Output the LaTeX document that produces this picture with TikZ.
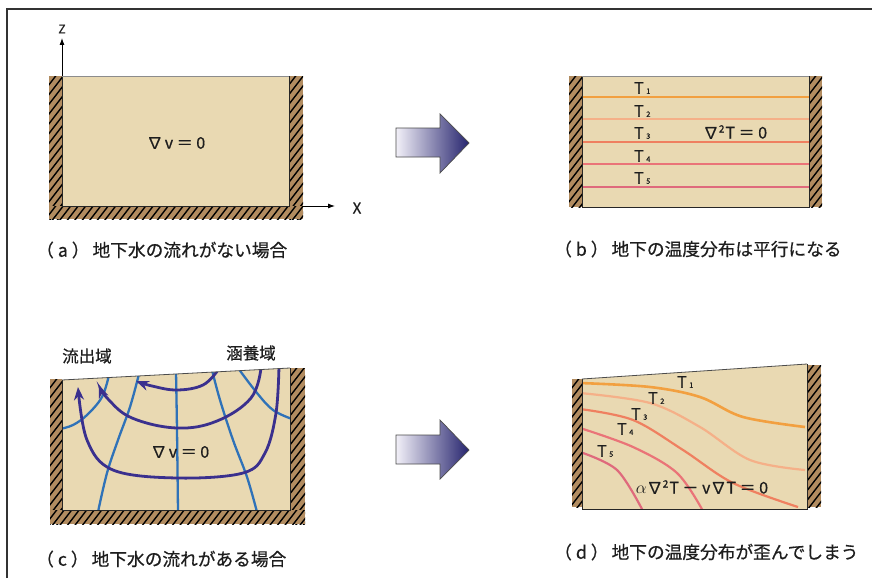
\documentclass[tikz,border=0pt]{standalone}
\usepackage{fontspec}
\setmainfont{Noto Sans CJK JP}[FakeBold=0.6]
\usetikzlibrary{arrows.meta}

\definecolor{soil}{HTML}{E9D9B2}
\definecolor{wallc}{HTML}{B28C60}
\definecolor{flowc}{HTML}{3A308E}
\definecolor{equic}{HTML}{2F72B8}
\definecolor{tone}{HTML}{F2A040}
\definecolor{ttwo}{HTML}{F5B088}
\definecolor{tthree}{HTML}{EF8060}
\definecolor{tfour}{HTML}{EA7478}
\definecolor{tfive}{HTML}{DF6A7C}
\definecolor{txt}{HTML}{1E1E1E}
\definecolor{arrL}{HTML}{F2F0F8}
\definecolor{arrM}{HTML}{8C80BC}
\definecolor{arrR}{HTML}{26246E}

% hatched wall: #1,#2 = left/top, #3,#4 = right/bottom (pixel units, y downwards)
\newcommand\hatchwall[4]{%
  \begin{scope}
    \clip (#1,#2) rectangle (#3,#4);
    \fill[wallc] (#1,#2) rectangle (#3,#4);
    \pgfmathsetmacro\hwH{#4-#2+6}
    \pgfmathsetmacro\hwW{\hwH/1.3}
    \pgfmathsetmacro\hwA{#1-\hwW-6}
    \pgfmathsetmacro\hwB{\hwA+7.5}
    \foreach \hx in {\hwA,\hwB,...,#3}
      \draw[hatchline] (\hx,#4+3) -- ++(\hwW,-\hwH);
  \end{scope}}

% temperature label with a small index
\newcommand\tlbl[1]{T\hspace{2.5pt}{\fontsize{7.5}{8}\selectfont #1}}
% superscript two inside the equations
\newcommand\sqtwo{\raisebox{6pt}{\fontsize{10}{11}\selectfont 2}}

\begin{document}
\begin{tikzpicture}[x=1pt,y=-1pt,
  hatchline/.style={black,line width=1.4pt},
  soilbox/.style={fill=soil,draw=black!85,line width=0.9pt},
  topedge/.style={draw=black!45,line width=0.6pt},
  flow/.style={draw=flowc,line width=2.8pt,line cap=round,
    -{Stealth[length=13pt,width=10pt]}},
  equi/.style={draw=equic,line width=2.3pt},
  tcurve/.style={line width=2.2pt},
  axisarrow/.style={black,line width=0.9pt,-{Latex[length=7pt,width=5pt]}},
  caption/.style={font=\fontsize{17.7}{20}\selectfont,text=txt,inner sep=0,anchor=west},
  region/.style={font=\fontsize{16.5}{19}\selectfont,text=txt,inner sep=0},
  eqn/.style={font=\fontsize{16}{18}\selectfont,text=txt,inner sep=0},
  tname/.style={font=\fontsize{16}{18}\selectfont,text=txt,inner sep=0,anchor=west},
  bigarrow/.style={draw=black!70,line width=0.7pt}]

\useasboundingbox (0,0) rectangle (872,578);
\fill[white] (0,0) rectangle (872,578);

% outer frame
\draw[black!80,line width=1.8pt] (7,578) -- (7,9) -- (872,9);

% ---------- (a) no groundwater flow ----------
\hatchwall{49}{76}{62}{219}
\hatchwall{289}{76}{303}{219}
\hatchwall{49}{206}{303}{219}
\draw[soilbox] (62,76) rectangle (289,206);
\draw[topedge] (62,76) -- (289,76);
\coordinate (zorig) at (62,76);
\coordinate (zend) at (62,38);
\coordinate (xorig) at (303,206);
\coordinate (xend) at (335,206);
\draw[axisarrow] (zorig) -- (zend);
\draw[axisarrow] (xorig) -- (xend);
\node[font=\fontsize{12}{13}\selectfont,text=txt,inner sep=0] (zlab) at (62,29) {Z};
\node[font=\fontsize{15}{16}\selectfont,text=txt,inner sep=0] (xlab) at (357,208) {X};
\node[eqn] (eqa) at (176,143) {∇\hspace{2pt}v ＝ 0};
\node[caption] (capa) at (36,250) {（\hspace{4pt}a\hspace{4pt}）\hspace{3pt}地下水の流れがない場合};

% ---------- (b) parallel temperature field ----------
\hatchwall{569}{76}{582}{207}
\hatchwall{809}{76}{822}{207}
\draw[soilbox] (582,76) rectangle (809,207);
\draw[topedge] (582,76) -- (809,76);
\draw[tcurve,tone]   (582.5,97)  -- (808.5,97);
\draw[tcurve,ttwo]   (582.5,119) -- (808.5,119);
\draw[tcurve,tthree] (582.5,142) -- (808.5,142);
\draw[tcurve,tfour]  (582.5,164) -- (808.5,164);
\draw[tcurve,tfive]  (582.5,187) -- (808.5,187);
\node[tname] (tb1) at (634,88)  {\tlbl{1}};
\node[tname] (tb2) at (634,111) {\tlbl{2}};
\node[tname] (tb3) at (634,133) {\tlbl{3}};
\node[tname] (tb4) at (634,156) {\tlbl{4}};
\node[tname] (tb5) at (634,178) {\tlbl{5}};
\node[eqn] (eqb) at (735,132) {∇\sqtwo\hspace{1pt}T ＝ 0};
\node[caption] (capb) at (554,249) {（\hspace{4pt}b\hspace{4pt}）\hspace{3pt}地下の温度分布は平行になる};

% ---------- (c) with groundwater flow ----------
\hatchwall{50}{379}{62}{524}
\hatchwall{290}{368}{305}{524}
\hatchwall{50}{510}{305}{524}
\fill[soil] (62,380) -- (290,368) -- (290,510) -- (62,510) -- cycle;
\begin{scope}
  \clip (62,380) -- (290,368) -- (290,510) -- (62,510) -- cycle;
  % equipotential lines
  \draw[equi] plot[smooth,tension=0.6] coordinates {(109,375) (102,397) (87,415) (73,425) (60,429)};
  \draw[equi] plot[smooth,tension=0.6] coordinates {(139,374) (130,407) (118,440) (107,473) (98,512)};
  \draw[equi] plot[smooth,tension=0.6] coordinates {(176,372) (177,430) (178,512)};
  \draw[equi] plot[smooth,tension=0.6] coordinates {(212,370) (220,400) (233,440) (247,477) (257,512)};
  \draw[equi] plot[smooth,tension=0.6] coordinates {(238,368) (257,393) (273,410) (292,419)};
  % flow lines
  \draw[flow] plot[smooth,tension=0.65] coordinates {(218,370) (203,385) (177,390) (152,386) (136,381)};
  \draw[flow] plot[smooth,tension=0.65] coordinates {(261,368) (251,398) (217,421) (177,428) (132,418) (108,399) (99,385)};
  \draw[flow] plot[smooth,tension=0.6] coordinates {(279,366) (276,413) (265,453) (243,473) (177,478) (113,470) (87,440) (78,387)};
\end{scope}
\draw[black!85,line width=0.9pt] (62,380) -- (62,510) -- (290,510) -- (290,368);
\draw[black!70,line width=0.8pt] (62,380) -- (290,368);
\node[eqn] (eqc) at (180,452) {∇\hspace{2pt}v ＝ 0};
\node[region] (outflow) at (87,356) {流出域};
\node[region] (recharge) at (251,353) {涵養域};
\node[caption] (capc) at (36,559) {（\hspace{4pt}c\hspace{4pt}）\hspace{3pt}地下水の流れがある場合};

% ---------- (d) distorted temperature field ----------
\hatchwall{572}{379}{582}{507}
\hatchwall{807}{365}{821}{507}
\fill[soil] (582,379) -- (807,364) -- (807,509) -- (582,509) -- cycle;
\begin{scope}
  \clip (582,379) -- (807,364) -- (807,509) -- (582,509) -- cycle;
  \draw[tcurve,tone,line width=2.6pt] plot[smooth,tension=0.55] coordinates {(580,383) (650,387) (700,397) (743,417) (805,427)};
  \draw[tcurve,ttwo] plot[smooth,tension=0.55] coordinates {(580,393) (650,403) (700,427) (750,460) (805,470)};
  \draw[tcurve,tthree] plot[smooth,tension=0.55] coordinates {(580,409) (633,420) (683,450) (733,483) (798,507)};
  \draw[tcurve,tfour] plot[smooth,tension=0.55] coordinates {(580,428) (633,447) (677,473) (703,511)};
  \draw[tcurve,tfive] plot[smooth,tension=0.55] coordinates {(580,452) (617,470) (643,511)};
\end{scope}
\draw[black!85,line width=0.9pt] (582,379) -- (582,509) -- (807,509) -- (807,364);
\draw[black!70,line width=0.8pt] (582,379) -- (807,364);
\node[tname] (td1) at (677,382) {\tlbl{1}};
\node[tname] (td2) at (648,398) {\tlbl{2}};
\node[tname] (td3) at (631,414) {\tlbl{3}};
\node[tname] (td4) at (617,429) {\tlbl{4}};
\node[tname] (td5) at (597,451) {\tlbl{5}};
\node[eqn] (eqd) at (702,487) {$\alpha$∇\sqtwo\hspace{1pt}T － v∇T ＝ 0};
\node[caption] (capd) at (554,552) {（\hspace{4pt}d\hspace{4pt}）\hspace{3pt}地下の温度分布が歪んでしまう};

% ---------- transition arrows ----------
\shade[left color=arrL,middle color=arrM,right color=arrR]
  (396,128) -- (440,128) -- (440,114) -- (469,143) -- (440,173) -- (440,157) -- (396,157) -- cycle;
\draw[bigarrow]
  (396,128) -- (440,128) -- (440,114) -- (469,143) -- (440,173) -- (440,157) -- (396,157) -- cycle;
\shade[left color=arrL,middle color=arrM,right color=arrR]
  (396,435) -- (440,435) -- (440,420) -- (469,450) -- (440,479) -- (440,464) -- (396,464) -- cycle;
\draw[bigarrow]
  (396,435) -- (440,435) -- (440,420) -- (469,450) -- (440,479) -- (440,464) -- (396,464) -- cycle;

\end{tikzpicture}
\end{document}
